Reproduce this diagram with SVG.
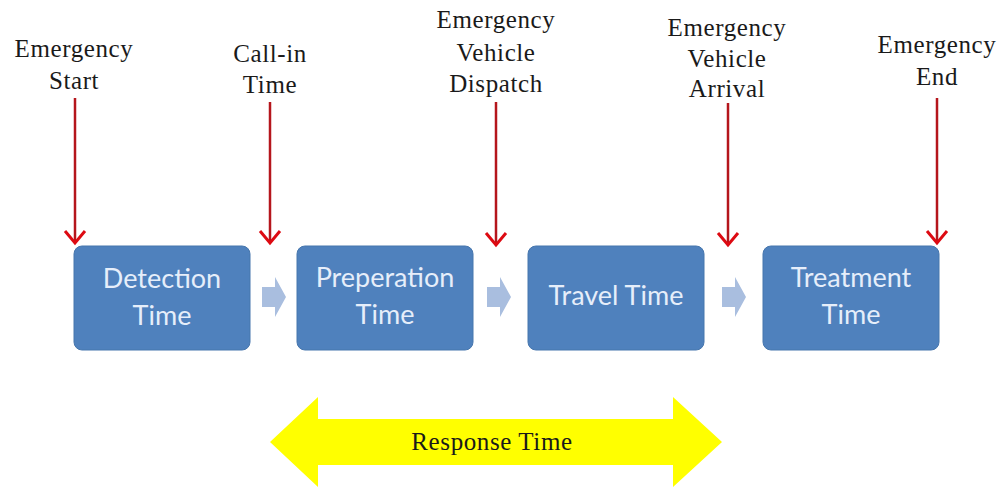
<svg xmlns="http://www.w3.org/2000/svg" width="1001" height="487" viewBox="0 0 1001 487">
  <style>
    .lbl { font-family: "Liberation Serif", "Times New Roman", serif; font-size: 25px; letter-spacing: 0.6px; fill: #1a1a1a; text-anchor: middle; }
    .box { fill: #4f81bd; stroke: #4676ad; stroke-width: 1; }
    .boxtxt { font-family: Lato, "Open Sans", sans-serif; font-size: 27px; fill: #e6eefa; text-anchor: middle; }
    .step { fill: #a9bedf; }
    .tick { stroke: #b5161c; stroke-width: 2.5; fill: none; }
  </style>
  <defs>
    <!-- open red chevron at the end of each event line -->
    <marker id="vhead" markerUnits="userSpaceOnUse" markerWidth="20" markerHeight="26" viewBox="-16 -13 20 26" refX="0" refY="0" orient="auto">
      <polyline points="-12,-10 0,0 -12,10" fill="none" stroke="#dd0a12" stroke-width="3"/>
    </marker>
  </defs>
  <rect width="1001" height="487" fill="#ffffff"/>

  <!-- event labels -->
  <g id="label-start">
    <text class="lbl" x="74" y="57">Emergency</text>
    <text class="lbl" x="74" y="89">Start</text>
  </g>
  <g id="label-callin">
    <text class="lbl" x="270" y="62">Call-in</text>
    <text class="lbl" x="270" y="93">Time</text>
  </g>
  <g id="label-dispatch">
    <text class="lbl" x="496" y="28">Emergency</text>
    <text class="lbl" x="496" y="61">Vehicle</text>
    <text class="lbl" x="496" y="92">Dispatch</text>
  </g>
  <g id="label-arrival">
    <text class="lbl" x="727" y="36">Emergency</text>
    <text class="lbl" x="727" y="67">Vehicle</text>
    <text class="lbl" x="727" y="97">Arrival</text>
  </g>
  <g id="label-end">
    <text class="lbl" x="937" y="53">Emergency</text>
    <text class="lbl" x="937" y="85">End</text>
  </g>

  <!-- phase boxes -->
  <g id="detection">
    <rect class="box" x="74" y="246" width="176" height="104" rx="8"/>
    <text class="boxtxt" x="162" y="288">Detection</text>
    <text class="boxtxt" x="162" y="325">Time</text>
  </g>
  <g id="preparation">
    <rect class="box" x="297" y="246" width="176" height="104" rx="8"/>
    <text class="boxtxt" x="385" y="287">Preperation</text>
    <text class="boxtxt" x="385" y="324">Time</text>
  </g>
  <g id="travel">
    <rect class="box" x="528" y="246" width="176" height="104" rx="8"/>
    <text class="boxtxt" x="616" y="305">Travel Time</text>
  </g>
  <g id="treatment">
    <rect class="box" x="763" y="246" width="176" height="104" rx="8"/>
    <text class="boxtxt" x="851" y="287">Treatment</text>
    <text class="boxtxt" x="851" y="324">Time</text>
  </g>

  <!-- connectors -->
  <g id="connectors">
    <line class="tick" x1="75" y1="98" x2="75" y2="243" marker-end="url(#vhead)"/>
    <line class="tick" x1="270" y1="102" x2="270" y2="243" marker-end="url(#vhead)"/>
    <line class="tick" x1="496" y1="102" x2="496" y2="245" marker-end="url(#vhead)"/>
    <line class="tick" x1="728" y1="103" x2="728" y2="245" marker-end="url(#vhead)"/>
    <line class="tick" x1="937" y1="98" x2="937" y2="243" marker-end="url(#vhead)"/>

    <polygon class="step" points="262,287 275,287 275,277 286,297 275,317 275,307 262,307"/>
    <polygon class="step" points="487,287 500,287 500,277 511,297 500,317 500,307 487,307"/>
    <polygon class="step" points="722,287 735,287 735,277 746,297 735,317 735,307 722,307"/>
  </g>

  <!-- response span -->
  <g id="response">
    <polygon fill="#ffff00" points="270,442 318,397 318,419 673,419 673,397 722,442 673,487 673,465 318,465 318,487"/>
    <text class="lbl" x="492" y="450">Response Time</text>
  </g>
</svg>
